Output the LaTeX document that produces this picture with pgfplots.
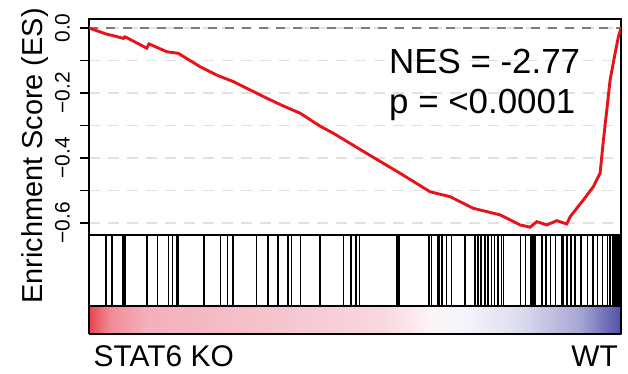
\documentclass[border=0pt]{standalone}
\usepackage{pgfplots}
\pgfplotsset{compat=1.18}
\usepackage{fontspec}
\setmainfont{Liberation Sans}
\definecolor{esred}{RGB}{230,20,26}
\definecolor{gridgray}{RGB}{225,225,225}
\definecolor{zerogray}{RGB}{125,125,125}

\begin{document}
\begin{tikzpicture}[x=1bp,y=1bp]
\useasboundingbox (0,0) rectangle (628,373);

% ---------- running enrichment score ----------
\begin{axis}[
  at={(89bp,138bp)}, anchor=south west,
  scale only axis, width=532bp, height=216bp,
  xmin=0, xmax=10000, ymin=-0.637, ymax=0.0277,
  axis line style={line width=2bp},
  xtick=\empty,
  ytick={-0.6,-0.5,-0.4,-0.3,-0.2,-0.1,0},
  yticklabels={−0.6,,−0.4,,−0.2,,0.0},
  ytick pos=left, tick align=outside, major tick length=9bp,
  every tick/.style={black, line width=1.5bp},
  yticklabel shift=10bp,
  yticklabel style={rotate=90, anchor=south, inner sep=0pt,
     font=\fontsize{21}{21}\selectfont},
  ymajorgrids,
  grid style={gridgray, dash pattern=on 11bp off 8bp, line width=1.8bp},
]
\addplot[zerogray, dash pattern=on 9bp off 8bp, line width=1.8bp, forget plot]
  coordinates {(0,0) (10000,0)};
\addplot[esred, line width=2.9bp, mark=none] coordinates {
(0,0) (333,-0.019) (489,-0.025) (645,-0.032) (677,-0.027) (1085,-0.062)
(1128,-0.049) (1461,-0.073) (1679,-0.078) (2087,-0.119) (2401,-0.145)
(2713,-0.165) (3341,-0.216) (3653,-0.240) (3967,-0.262) (4343,-0.302)
(4593,-0.324) (5221,-0.386) (5847,-0.447) (6411,-0.504) (6787,-0.519)
(7225,-0.555) (7727,-0.575) (8103,-0.606) (8291,-0.613) (8417,-0.596)
(8605,-0.606) (8793,-0.593) (8981,-0.603) (9043,-0.581) (9293,-0.529)
(9481,-0.488) (9607,-0.447) (9669,-0.345) (9733,-0.252) (9795,-0.160)
(9889,-0.078) (9951,-0.027) (10000,0)};
\end{axis}

% ---------- barcode of hits ----------
\begin{axis}[
  at={(89bp,67.5bp)}, anchor=south west,
  scale only axis, width=532bp, height=70.5bp,
  xmin=0, xmax=10000, ymin=0, ymax=1,
  axis line style={line width=2bp},
  xtick=\empty, ytick=\empty,
]
\addplot[ycomb, black, line width=1.6bp, mark=none] coordinates {
(314,1) (427,1) (639,1) (677,1) (1090,1) (1284,1) (1491,1) (1566,1) (1645,1)
(1673,1) (2162,1) (2472,1) (2600,1) (2712,1) (3152,1) (3370,1) (3558,1)
(3735,1) (3803,1) (3979,1) (4342,1) (4780,1) (4925,1) (5019,1) (5088,1)
(5784,1) (5827,1) (6391,1) (6438,1) (6551,1) (6579,1) (6635,1) (6720,1)
(6814,1) (7068,1) (7256,1) (7312,1) (7368,1) (7444,1) (7500,1) (7566,1)
(7622,1) (7688,1) (7754,1) (7791,1) (8111,1) (8205,1) (8308,1) (8346,1)
(8383,1) (8515,1) (8590,1) (8675,1) (8769,1) (8891,1) (8919,1) (8985,1)
(9060,1) (9135,1) (9248,1) (9370,1) (9474,1) (9558,1) (9652,1) (9746,1)
(9793,1) (9850,1) (9878,1) (9906,1) (9934,1) (9962,1) (9991,1)};
\end{axis}

% ---------- ranked list colour bar ----------
\begin{axis}[
  at={(89bp,39bp)}, anchor=south west,
  scale only axis, width=532bp, height=28.5bp,
  xmin=0, xmax=10000, ymin=0, ymax=1,
  view={0}{90}, axis on top,
  axis line style={line width=2bp},
  xtick=\empty, ytick=\empty, ztick=\empty,
  colormap={gsea}{[1pt]
    rgb255(0pt)=(232,68,78)
    rgb255(4pt)=(241,140,152)
    rgb255(11pt)=(244,176,188)
    rgb255(30pt)=(245,192,202)
    rgb255(55pt)=(249,215,222)
    rgb255(64pt)=(253,243,246)
    rgb255(70pt)=(245,246,252)
    rgb255(81pt)=(220,220,238)
    rgb255(92pt)=(168,168,214)
    rgb255(100pt)=(82,82,168)},
]
\addplot3[surf, shader=interp, point meta=x] coordinates {
(0,0,0) (10000,0,0)

(0,1,0) (10000,1,0)
};
\end{axis}

% ---------- texts ----------
\node[rotate=90, anchor=base, inner sep=0pt, font=\fontsize{29}{29}\selectfont]
  at (42,217) {Enrichment Score (ES)};
\node[anchor=base west, inner sep=0pt, font=\fontsize{35}{35}\selectfont]
  at (389,300) {NES = -2.77};
\node[anchor=base west, inner sep=0pt, font=\fontsize{35}{35}\selectfont]
  at (389,260) {p = <0.0001};
\node[anchor=base west, inner sep=0pt, font=\fontsize{30}{30}\selectfont]
  at (93.5,7) {STAT6 KO};
\node[anchor=base east, inner sep=0pt, font=\fontsize{30}{30}\selectfont]
  at (618,7) {WT};
\end{tikzpicture}
\end{document}
